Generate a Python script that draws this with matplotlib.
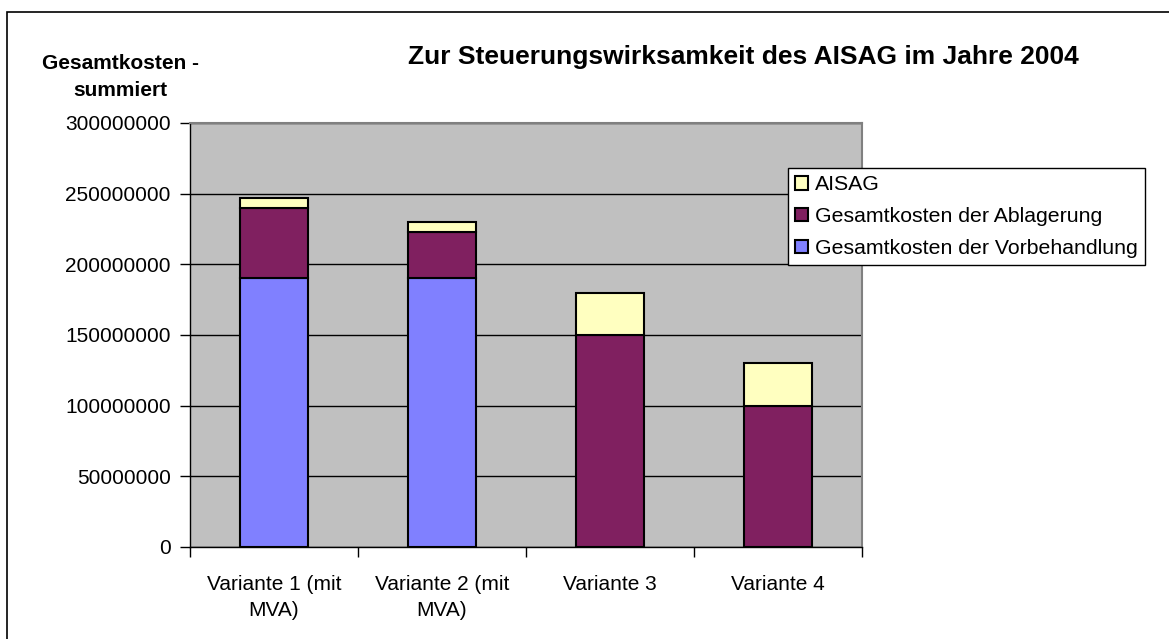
import numpy as np
import matplotlib
matplotlib.use("Agg")
import matplotlib.pyplot as plt
from matplotlib.patches import Rectangle

plt.rcParams["font.family"] = ["Liberation Sans", "DejaVu Sans"]

# ---------------------------------------------
# Daten
# ---------------------------------------------
varianten = ["Variante 1 (mit\nMVA)", "Variante 2 (mit\nMVA)", "Variante 3", "Variante 4"]
vorbehandlung = [190000000, 190000000, 0, 0]
ablagerung = [50000000, 33000000, 150000000, 100000000]
aisag = [7000000, 7000000, 30000000, 30000000]
y_ticks = [0, 50000000, 100000000, 150000000, 200000000, 250000000, 300000000]

W, H = 1169, 639
fig = plt.figure(figsize=(W / 100, H / 100), dpi=100)
fig.patch.set_facecolor("white")

# Außenrahmen (rechts/unten abgeschnitten)
fig.patches.append(Rectangle((7 / W, -0.05), 1.2, 1 - 12 / H + 0.05,
                             transform=fig.transFigure, fill=False,
                             edgecolor="black", linewidth=1.2))

ax = fig.add_axes([190 / W, 1 - 547 / H, (862 - 190) / W, (547 - 123) / H])
ax.set_facecolor("#C0C0C0")

x = np.arange(len(varianten))
breite = 0.4
ec = dict(edgecolor="black", linewidth=1.5)
b1 = ax.bar(x, vorbehandlung, breite, color="#8080FF", label="Gesamtkosten der Vorbehandlung", zorder=3, **ec)
b2 = ax.bar(x, ablagerung, breite, bottom=vorbehandlung, color="#802060",
            label="Gesamtkosten der Ablagerung", zorder=3, **ec)
unten = np.array(vorbehandlung) + np.array(ablagerung)
b3 = ax.bar(x, aisag, breite, bottom=unten, color="#FFFFC0", label="AISAG", zorder=3, **ec)

ax.set_xlim(-0.5, len(varianten) - 0.5)
ax.set_ylim(0, 300000000)
ax.set_yticks(y_ticks)
ax.set_yticklabels([str(v) for v in y_ticks], fontsize=15)
ax.yaxis.grid(True, color="black", linewidth=1, zorder=1)
ax.set_axisbelow(True)

ax.set_xticks(x)
ax.set_xticklabels(varianten, fontsize=15, linespacing=1.45)
ax.tick_params(axis="x", which="major", length=0, pad=20)
ax.set_xticks(np.arange(len(varianten) + 1) - 0.5, minor=True)
ax.tick_params(axis="x", which="minor", length=7, width=1, direction="out")
ax.tick_params(axis="y", length=7, width=1, direction="out", pad=7)

for s in ["top", "right"]:
    ax.spines[s].set_color("#808080")
    ax.spines[s].set_linewidth(1.5)
for s in ["left", "bottom"]:
    ax.spines[s].set_color("black")
    ax.spines[s].set_linewidth(1)

fig.text(743 / W, 1 - 57 / H, "Zur Steuerungswirksamkeit des AISAG im Jahre 2004",
         fontsize=19, fontweight="bold", ha="center", va="center")
fig.text(120 / W, 1 - 77 / H, "Gesamtkosten -\nsummiert",
         fontsize=15, fontweight="bold", ha="center", va="center", linespacing=1.55)

leg = fig.legend([b3, b2, b1], ["AISAG", "Gesamtkosten der Ablagerung", "Gesamtkosten der Vorbehandlung"],
                 loc="upper left", bbox_to_anchor=(788 / W, 1 - 168 / H),
                 fontsize=15.3, frameon=True, fancybox=False, framealpha=1,
                 edgecolor="black", handlelength=0.6, handleheight=0.6,
                 handletextpad=0.3, borderpad=0.35, labelspacing=0.6, borderaxespad=0)
leg.get_frame().set_linewidth(1)
leg.set_zorder(10)

fig.savefig("out.png", dpi=100)
